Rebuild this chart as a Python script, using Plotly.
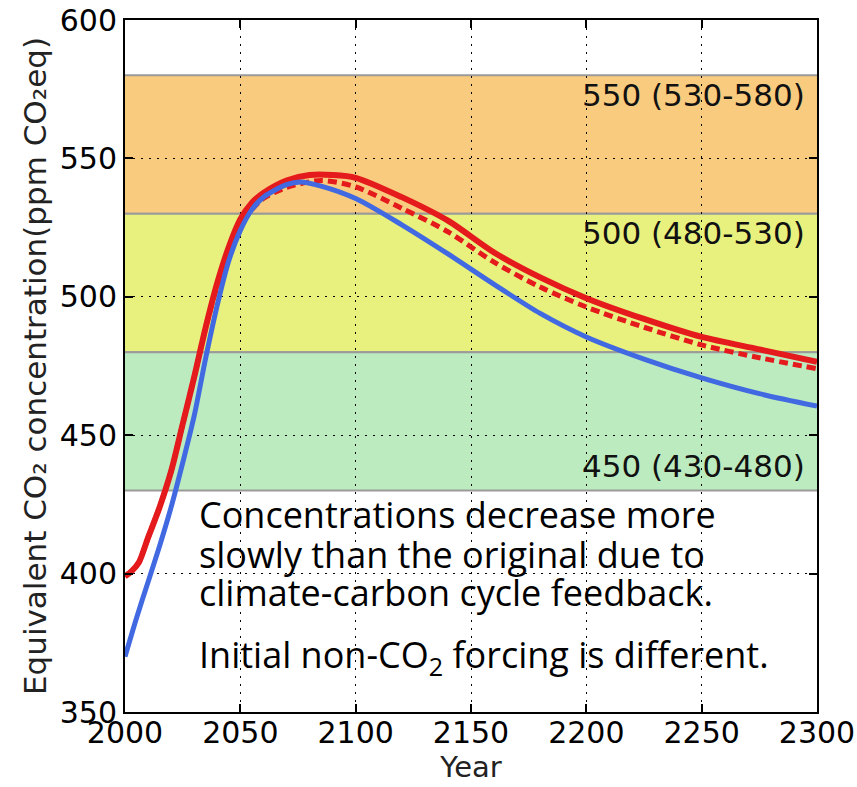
import plotly.graph_objects as go

# Equivalent CO2 concentration pathways (ppm CO2eq)
years_red = [2000, 2003, 2006, 2010, 2015, 2020, 2025, 2030, 2035, 2040, 2045, 2050, 2055, 2060,
             2070, 2080, 2090, 2100, 2120, 2140, 2160, 2180, 2200, 2225, 2250, 2275, 2300]
conc_red = [399, 401, 404, 413, 424, 437, 454, 471, 489, 505, 518, 528, 534, 537.5,
            542, 544, 544, 543, 536, 527.5, 516, 507, 499.5, 492, 485.5, 481, 476.5]

years_red_dash = [2000, 2003, 2006, 2010, 2015, 2020, 2025, 2030, 2035, 2040, 2045, 2050, 2055, 2060,
                  2070, 2085, 2100, 2120, 2140, 2160, 2180, 2200, 2225, 2250, 2275, 2300]
conc_red_dash = [399, 401, 404, 413, 424, 437, 454, 471, 489, 504, 516, 526, 531.5, 535.5,
                 539.5, 542, 539.7, 532, 523.5, 512.5, 503.5, 496.3, 489, 482.6, 478, 474]

years_blue = [2000, 2005, 2010, 2015, 2020, 2025, 2030, 2035, 2040, 2045, 2050, 2055, 2060,
              2070, 2076, 2085, 2100, 2120, 2140, 2160, 2180, 2200, 2225, 2250, 2275, 2300]
conc_blue = [370, 384, 397, 410, 424, 440, 457, 478, 497, 513, 524, 531.5, 536,
             540.5, 541.5, 540, 535.5, 526, 515.5, 504.5, 494, 485.5, 477.5, 470.7, 465, 460.5]

# Target concentration categories: (lower, upper, label, colour)
band_low = [530, 480, 430]
band_high = [580, 530, 480]
band_labels = ["550 (530-580)", "500 (480-530)", "450 (430-480)"]
band_colors = ["#F8CB7E", "#E8F07E", "#BDEBC0"]
band_label_y = [573, 523, 439]

notes = [
    "Concentrations decrease more",
    "slowly than the original due to",
    "climate-carbon cycle feedback.",
    "Initial non-CO<sub>2</sub> forcing is different.",
]
note_y = [421.3, 406.9, 393.0, 369.9]

x_ticks = [2000, 2050, 2100, 2150, 2200, 2250, 2300]
y_ticks = [350, 400, 450, 500, 550, 600]

RED = "#E41A1C"
BLUE = "#4169E1"
TICK_FONT = dict(family="DejaVu Sans", size=30, color="black")

fig = go.Figure()

fig.add_trace(go.Scatter(x=years_red, y=conc_red, mode="lines",
                         line=dict(color=RED, width=6, shape="spline", smoothing=0.8),
                         showlegend=False))
fig.add_trace(go.Scatter(x=years_red_dash, y=conc_red_dash, mode="lines",
                         line=dict(color=RED, width=5, dash="9px,5px", shape="spline", smoothing=0.8),
                         showlegend=False))
fig.add_trace(go.Scatter(x=years_blue, y=conc_blue, mode="lines",
                         line=dict(color=BLUE, width=5, shape="spline", smoothing=0.8),
                         showlegend=False))

for lo, hi, lab, col, ly in zip(band_low, band_high, band_labels, band_colors, band_label_y):
    fig.add_shape(type="rect", xref="x", yref="y", x0=2000, x1=2300, y0=lo, y1=hi,
                  fillcolor=col, line=dict(width=0), layer="below")
    for edge in (lo, hi):
        fig.add_shape(type="line", xref="x", yref="y", x0=2000, x1=2300, y0=edge, y1=edge,
                      line=dict(color="#9A9A9A", width=2), layer="below")
    fig.add_annotation(x=2295.5, y=ly, xref="x", yref="y", text=lab, showarrow=False,
                       xanchor="right", yanchor="middle",
                       font=dict(family="DejaVu Sans", size=31, color="#111111"))

for txt, ny in zip(notes, note_y):
    fig.add_annotation(x=2031.2, y=ny, xref="x", yref="y", text=txt, showarrow=False,
                       xanchor="left", yanchor="middle",
                       font=dict(family="Open Sans", size=36, color="black"))

axis_common = dict(showline=True, linecolor="black", linewidth=2, mirror="ticks",
                   ticks="inside", ticklen=8, tickwidth=1.5, tickcolor="black",
                   showgrid=True, gridcolor="black", gridwidth=1.3, griddash="2px,6px",
                   zeroline=False, tickfont=TICK_FONT, automargin=False)

fig.update_xaxes(range=[2000, 2300], tickvals=x_ticks, ticktext=[str(v) for v in x_ticks],
                 ticklabelstandoff=-7,
                 title=dict(text="Year", font=dict(family="DejaVu Sans", size=29, color="#222"),
                            standoff=0),
                 **axis_common)
fig.update_yaxes(range=[350, 600], tickvals=y_ticks, ticktext=[str(v) for v in y_ticks],
                 title=dict(text="Equivalent CO₂ concentration(ppm CO₂eq)",
                            font=dict(family="DejaVu Sans", size=31, color="#222"), standoff=4),
                 **axis_common)

fig.update_layout(width=857, height=787,
                  margin=dict(l=125, r=40, t=20, b=75, autoexpand=False),
                  paper_bgcolor="white", plot_bgcolor="white")

fig.write_html("out.html")
